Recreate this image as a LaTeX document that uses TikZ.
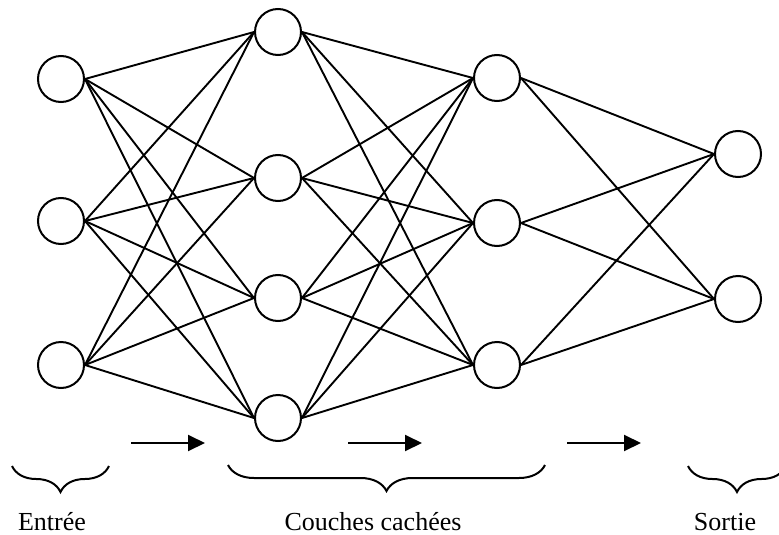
\documentclass[tikz,border=0pt]{standalone}
\usepackage{fontspec}
\setmainfont{Liberation Serif}
\usetikzlibrary{arrows.meta,decorations.pathreplacing}

\tikzset{
  neuron/.style={draw, circle, line width=2pt, minimum size=46pt, inner sep=0pt},
  link/.style={line width=1.9pt},
  flow/.style={line width=2pt, -{Triangle[length=17pt,width=16pt]}},
  groupbrace/.style={line width=2pt, decorate, decoration={brace, mirror, amplitude=26pt}},
  layername/.style={anchor=base, font=\fontsize{26}{30}\selectfont}
}

\begin{document}
\begin{tikzpicture}[x=1pt, y=-1pt]
          \useasboundingbox (0,0) rectangle (779,535);
          \clip (0,0) rectangle (779,535);

          % couches de neurones
          \foreach \i/\y in {1/79,2/221,3/365}{
            \node[neuron] (in\i) at (61,\y) {};
          }
          \foreach \i/\y in {1/32,2/178,3/298,4/418}{
            \node[neuron] (ha\i) at (278,\y) {};
          }
          \foreach \i/\y in {1/78,2/223,3/365}{
            \node[neuron] (hb\i) at (497,\y) {};
          }
          \foreach \i/\y in {1/154,2/299}{
            \node[neuron] (out\i) at (738,\y) {};
          }

          % connexions
          \foreach \a in {1,2,3}{
            \foreach \b in {1,2,3,4}{
              \draw[link] (in\a.east) -- (ha\b.west);
            }
          }
          \foreach \a in {1,2,3,4}{
            \foreach \b in {1,2,3}{
              \draw[link] (ha\a.east) -- (hb\b.west);
            }
          }
          \foreach \a in {1,2,3}{
            \foreach \b in {1,2}{
              \draw[link] (hb\a.east) -- (out\b.west);
            }
          }

          % sens de propagation
          \foreach \k/\x in {1/131,2/348,3/567}{
            \coordinate (fs\k) at (\x,443);
            \coordinate (fe\k) at (\x+74,443);
            \draw[flow] (fs\k) -- (fe\k);
          }

          % accolades
          \draw[groupbrace] (12,466) -- (109,466);
          \draw[groupbrace] (228,465) -- (545,465);
          \draw[groupbrace] (688,466) -- (786,466);

          \node[layername] (lblin) at (52,530) {Entrée};
          \node[layername] (lblhid) at (373,530) {Couches cachées};
          \node[layername] (lblout) at (725,530) {Sortie};
        \end{tikzpicture}
\end{document}
